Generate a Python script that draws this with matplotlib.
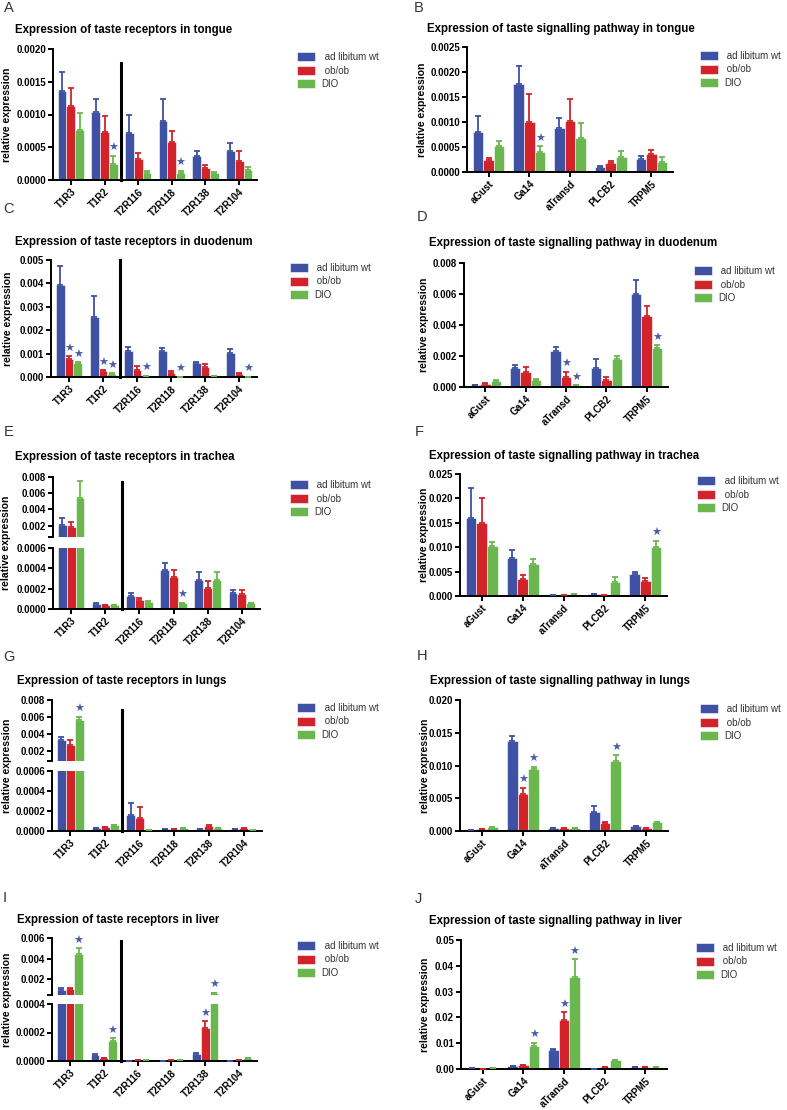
import matplotlib
matplotlib.use("Agg")
import matplotlib.pyplot as plt
import numpy as np
from matplotlib.patches import Patch

plt.rcParams["font.family"] = ["Liberation Sans", "DejaVu Sans"]

W, H = 787, 1110

SERIES = [" ad libitum wt", " ob/ob", "DIO"]
COLORS = ["#3F51A3", "#D2232A", "#6AB750"]
STAR_COLOR = "#4A5CA6"

RECEPTORS = ["T1R3", "T1R2", "T2R116", "T2R118", "T2R138", "T2R104"]
PATHWAY = ["aGust", "Ga14", "aTransd", "PLCB2", "TRPM5"]

# rows: ad libitum wt, ob/ob, DIO
tongue_rec_mean = [[0.00136, 0.00104, 0.00071, 0.00090, 0.00036, 0.00045],
                   [0.00113, 0.00074, 0.00032, 0.00058, 0.00019, 0.00029],
                   [0.00077, 0.00024, 0.00011, 0.00011, 0.00010, 0.00016]]
tongue_rec_sem = [[0.00029, 0.00019, 0.00028, 0.00033, 0.00009, 0.00012],
                  [0.00027, 0.00024, 0.00009, 0.00017, 0.00004, 0.00016],
                  [0.00026, 0.00013, 0.00003, 0.00003, 0.00002, 0.00004]]
tongue_rec_stars = [(1, 2), (3, 2)]

tongue_path_mean = [[0.00080, 0.00176, 0.00088, 0.00010, 0.00027],
                    [0.00024, 0.00100, 0.00103, 0.00018, 0.00036],
                    [0.00052, 0.00040, 0.00069, 0.00030, 0.00020]]
tongue_path_sem = [[0.00033, 0.00036, 0.00021, 0.00002, 0.00006],
                   [0.00004, 0.00057, 0.00043, 0.00004, 0.00009],
                   [0.00010, 0.00012, 0.00030, 0.00012, 0.00011]]
tongue_path_stars = [(1, 2)]

duod_rec_mean = [[0.00393, 0.00256, 0.00110, 0.00110, 0.00058, 0.00104],
                 [0.00078, 0.00025, 0.00029, 0.00019, 0.00041, 0.00012],
                 [0.00061, 0.00014, 0.00004, 0.00001, 0.00003, 0.00001]]
duod_rec_sem = [[0.00081, 0.00091, 0.00020, 0.00016, 0.00004, 0.00016],
                [0.00010, 0.00005, 0.00018, 0.00006, 0.00016, 0.00004],
                [0.00003, 0.00001, 0.00001, 0.0, 0.0, 0.0]]
duod_rec_stars = [(0, 1), (0, 2), (1, 1), (1, 2), (2, 2), (3, 2), (5, 2)]

duod_path_mean = [[0.00010, 0.00125, 0.00233, 0.00125, 0.00600],
                  [0.00020, 0.00098, 0.00065, 0.00048, 0.00455],
                  [0.00040, 0.00048, 0.00010, 0.00180, 0.00250]]
duod_path_sem = [[0.00003, 0.00020, 0.00027, 0.00055, 0.00090],
                 [0.00005, 0.00032, 0.00035, 0.00017, 0.00065],
                 [0.00002, 0.00002, 0.00001, 0.00020, 0.00020]]
duod_path_stars = [(2, 1), (2, 2), (4, 2)]

trach_rec_mean = [[0.00210, 0.00005, 0.00013, 0.00038, 0.00029, 0.00016],
                  [0.00185, 0.00004, 0.00009, 0.00031, 0.00021, 0.00015],
                  [0.00535, 0.00004, 0.00007, 0.00006, 0.00029, 0.00006]]
trach_rec_sem = [[0.00090, 0.00001, 0.00003, 0.00007, 0.00007, 0.00003],
                 [0.00060, 0.0, 0.00002, 0.00007, 0.00007, 0.00004],
                 [0.00215, 0.0, 0.00001, 0.0, 0.00007, 0.0]]
trach_rec_stars = [(3, 2)]

trach_path_mean = [[0.0160, 0.0078, 0.0003, 0.0004, 0.0046],
                   [0.0150, 0.0035, 0.0003, 0.0003, 0.0031],
                   [0.0103, 0.0066, 0.0004, 0.0028, 0.0100]]
trach_path_sem = [[0.0062, 0.0017, 0.0, 0.0, 0.0004],
                  [0.0050, 0.0008, 0.0, 0.0, 0.0005],
                  [0.0007, 0.0009, 0.0, 0.0011, 0.0013]]
trach_path_stars = [(4, 2)]

lung_rec_mean = [[0.00330, 0.00003, 0.00016, 0.00002, 0.00002, 0.00002],
                 [0.00270, 0.00004, 0.00013, 0.00002, 0.00005, 0.00003],
                 [0.00565, 0.00006, 0.00001, 0.00003, 0.00003, 0.00001]]
lung_rec_sem = [[0.0003, 0.0, 0.00012, 0.0, 0.0, 0.0],
                [0.0006, 0.0, 0.00011, 0.0, 0.00001, 0.0],
                [0.0004, 0.0, 0.0, 0.0, 0.0, 0.0]]
lung_rec_stars = [(0, 2)]

lung_path_mean = [[0.0002, 0.0138, 0.0004, 0.0029, 0.0008],
                  [0.0003, 0.0057, 0.0005, 0.0012, 0.0005],
                  [0.0006, 0.0095, 0.0004, 0.0107, 0.0013]]
lung_path_sem = [[0.0, 0.0007, 0.0, 0.0009, 0.0],
                 [0.0, 0.0009, 0.0, 0.0001, 0.0],
                 [0.0, 0.0003, 0.0, 0.0009, 0.0]]
lung_path_stars = [(1, 1), (1, 2), (3, 2)]

liver_rec_mean = [[0.00100, 0.000045, 0.0, 0.000003, 0.00005, 0.000003],
                  [0.00110, 0.00002, 0.00001, 0.000005, 0.00023, 0.00001],
                  [0.00450, 0.00014, 0.000005, 0.000008, 0.00070, 0.00002]]
liver_rec_sem = [[0.00022, 0.000005, 0.0, 0.0, 0.000003, 0.0],
                 [0.00010, 0.0, 0.0, 0.0, 0.00005, 0.0],
                 [0.00050, 0.00002, 0.0, 0.0, 0.00003, 0.0]]
liver_rec_stars = [(0, 2), (1, 2), (4, 1), (4, 2)]

liver_path_mean = [[0.0002, 0.0013, 0.0074, 0.0001, 0.0006],
                   [0.0001, 0.0017, 0.0188, 0.0006, 0.0006],
                   [0.0005, 0.0088, 0.0356, 0.0033, 0.0006]]
liver_path_sem = [[0.0, 0.0, 0.0004, 0.0, 0.0],
                  [0.0, 0.0, 0.0031, 0.0, 0.0],
                  [0.0, 0.0014, 0.0069, 0.0002, 0.0]]
liver_path_stars = [(1, 2), (2, 1), (2, 2)]

BAR_W = 0.26


def px_box(left, top, right, bottom):
    return [left / W, 1 - bottom / H, (right - left) / W, (bottom - top) / H]


def fig_xy(x, y):
    return x / W, 1 - y / H


def style(ax, bottom=True):
    for side in ("top", "right"):
        ax.spines[side].set_visible(False)
    ax.spines["left"].set_linewidth(1.4)
    ax.spines["bottom"].set_linewidth(1.4)
    ax.spines["bottom"].set_visible(bottom)
    ax.tick_params(width=1.4, length=3.5, pad=1.5)
    if not bottom:
        ax.tick_params(axis="x", bottom=False, labelbottom=False)


def set_y(ax, lo, hi, step, fmt, blank_lo=False):
    ax.set_ylim(lo, hi)
    start = step if blank_lo else lo
    ticks = list(np.arange(start, hi + step / 2, step))
    labels = [fmt % t for t in ticks]
    if blank_lo:
        ticks = [lo] + ticks
        labels = [""] + labels
    ax.set_yticks(ticks, labels, fontsize=7, fontweight="bold")


def draw_bars(ax, cats, mean, sem, floor=None):
    n = len(cats)
    x = np.arange(n)
    for k in range(3):
        pos = x + (k - 1) * BAR_W
        m = np.asarray(mean[k], dtype=float)
        s = np.asarray(sem[k], dtype=float)
        ax.bar(pos, m, BAR_W, color=COLORS[k], edgecolor="white",
               linewidth=0.4, zorder=2)
        keep = np.ones(n, bool) if floor is None else (m + s) > floor
        ax.errorbar(pos[keep], m[keep], yerr=[np.zeros(keep.sum()), s[keep]],
                    fmt="none", ecolor=COLORS[k], elinewidth=1.3,
                    capsize=2.2, capthick=1.3, zorder=3)
    ax.set_xlim(-0.53, n - 0.47)


def add_stars(axes, mean, sem, stars):
    for g, k in stars:
        top = mean[k][g] + sem[k][g]
        ax = axes[0]
        for a in axes:
            lo, hi = a.get_ylim()
            if lo <= top <= hi:
                ax = a
        ax.annotate("★", (g + (k - 1) * BAR_W, top), xytext=(0, 1.8),
                    textcoords="offset points", ha="center", va="bottom",
                    fontsize=8, color=STAR_COLOR, annotation_clip=False)


def set_xlabels(ax, cats):
    ax.set_xticks(np.arange(len(cats)), cats, rotation=45, ha="right",
                  rotation_mode="anchor", fontsize=7, fontweight="bold")


fig = plt.figure(figsize=(W / 100, H / 100), dpi=100, facecolor="white")


def panel(letter, letter_xy, title, title_xy, cats, mean, sem, stars,
          box, yspec, legend_xy, ylabel_x, sep_top=None, upper=None):
    fig.text(*fig_xy(*letter_xy), letter, fontsize=10.5, color="#333333",
             ha="center", va="center")
    fig.text(*fig_xy(*title_xy), title, fontsize=8.3, fontweight="bold",
             ha="left", va="center")
    ax = fig.add_axes(px_box(*box))
    style(ax)
    draw_bars(ax, cats, mean, sem)
    set_y(ax, *yspec)
    set_xlabels(ax, cats)
    axes = [ax]
    top_px = box[1]
    if upper is not None:
        ubox, uspec = upper
        ua = fig.add_axes(px_box(*ubox))
        ua.patch.set_visible(False)
        style(ua, bottom=False)
        draw_bars(ua, cats, mean, sem, floor=uspec[0])
        set_y(ua, *uspec, blank_lo=True)
        axes.append(ua)
        top_px = ubox[1]
    if sep_top is not None:
        frac = (box[3] - sep_top) / (box[3] - box[1])
        ax.plot([1.5, 1.5], [0, frac], transform=ax.get_xaxis_transform(),
                color="black", lw=2.2, clip_on=False, zorder=4)
    add_stars(axes, mean, sem, stars)
    fig.text(*fig_xy(ylabel_x, (top_px + box[3]) / 2), "relative expression",
             rotation=90, fontsize=7.5, fontweight="bold", ha="center",
             va="center")
    handles = [Patch(facecolor=c, edgecolor="white", linewidth=0.4)
               for c in COLORS]
    ax.legend(handles, SERIES, loc="upper left",
              bbox_to_anchor=fig_xy(*legend_xy), bbox_transform=fig.transFigure,
              frameon=False, fontsize=7, handlelength=1.82, handleheight=1.03,
              handletextpad=0.7, labelspacing=0.36, borderpad=0,
              borderaxespad=0, labelcolor="#333333")


panel("A", (9, 8), "Expression of taste receptors in tongue", (15, 30),
      RECEPTORS, tongue_rec_mean, tongue_rec_sem, tongue_rec_stars,
      (53, 49, 257, 180), (0, 0.002, 0.0005, "%.4f"), (297, 52), 7.5,
      sep_top=63)
panel("B", (419, 8), "Expression of taste signalling pathway in tongue",
      (427, 29), PATHWAY, tongue_path_mean, tongue_path_sem,
      tongue_path_stars, (467, 47, 673, 172), (0, 0.0025, 0.0005, "%.4f"),
      (700, 51), 422)
panel("C", (9, 209), "Expression of taste receptors in duodenum", (15, 242),
      RECEPTORS, duod_rec_mean, duod_rec_sem, duod_rec_stars,
      (51, 260, 257, 377), (0, 0.005, 0.001, "%.3f"), (290, 263), 8,
      sep_top=260)
panel("D", (422, 217), "Expression of taste signalling pathway in duodenum",
      (429, 243), PATHWAY, duod_path_mean, duod_path_sem, duod_path_stars,
      (464, 263, 668, 387), (0, 0.008, 0.002, "%.3f"), (694, 266), 424)
panel("E", (9, 432), "Expression of taste receptors in trachea", (15, 457),
      RECEPTORS, trach_rec_mean, trach_rec_sem, trach_rec_stars,
      (53, 548, 260, 609), (0, 0.0006, 0.0002, "%.4f"), (290, 480), 6,
      sep_top=482,
      upper=((53, 477, 260, 537), (0.0006, 0.008, 0.002, "%.3f")))
panel("F", (419, 432), "Expression of taste signalling pathway in trachea",
      (429, 456), PATHWAY, trach_path_mean, trach_path_sem, trach_path_stars,
      (460, 474, 667, 596), (0, 0.025, 0.005, "%.3f"), (697, 476), 424)
panel("G", (9, 657), "Expression of taste receptors in lungs", (17, 681),
      RECEPTORS, lung_rec_mean, lung_rec_sem, lung_rec_stars,
      (52, 771, 262, 831), (0, 0.0006, 0.0002, "%.4f"), (297, 703), 7,
      sep_top=710,
      upper=((52, 700, 262, 761), (0.0008, 0.008, 0.002, "%.3f")))
panel("H", (422, 656), "Expression of taste signalling pathway in lungs",
      (430, 681), PATHWAY, lung_path_mean, lung_path_sem, lung_path_stars,
      (460, 700, 668, 831), (0, 0.020, 0.005, "%.3f"), (700, 704), 425)
panel("I", (5, 898), "Expression of taste receptors in liver", (17, 920),
      RECEPTORS, liver_rec_mean, liver_rec_sem, liver_rec_stars,
      (52, 1004, 257, 1061), (0, 0.0004, 0.0002, "%.4f"), (297, 941), 7,
      sep_top=941,
      upper=((52, 938, 257, 995), (0.0005, 0.006, 0.002, "%.3f")))
panel("J", (418, 899), "Expression of taste signalling pathway in liver",
      (429, 921), PATHWAY, liver_path_mean, liver_path_sem, liver_path_stars,
      (461, 940, 667, 1069), (0, 0.05, 0.01, "%.2f"), (696, 943), 425)

fig.savefig("out.png", dpi=100, facecolor="white")
